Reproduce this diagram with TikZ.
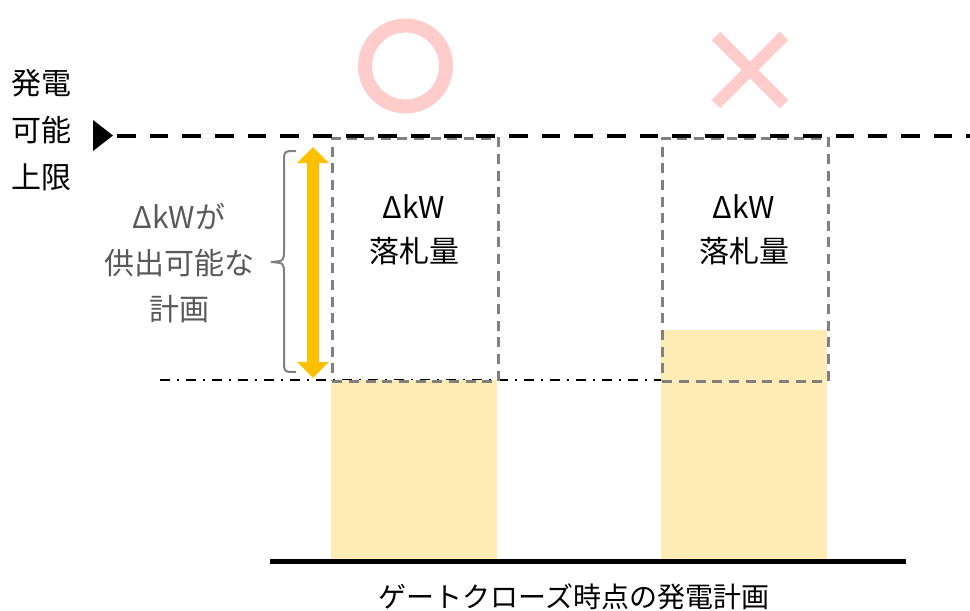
\documentclass[tikz,border=0pt]{standalone}
\usepackage{fontspec}
\newfontfamily\jp{Noto Sans CJK JP}
\usetikzlibrary{arrows.meta}
\definecolor{pinkmark}{HTML}{FFCCCC}
\definecolor{fillyellow}{HTML}{FFECB5}
\definecolor{arroworange}{HTML}{FFC000}
\definecolor{boxgray}{HTML}{808080}
\definecolor{textgray}{HTML}{595959}
\tikzset{
  lbl/.style={font=\jp\fontsize{22.5pt}{34.5pt}\selectfont, inner sep=0pt, align=center},
  boxframe/.style={draw=boxgray, line width=2pt, dash pattern=on 7.5pt off 5pt},
  yellowbar/.style={fill=fillyellow, draw=none},
  limitline/.style={line width=3pt, dash pattern=on 14pt off 10.5pt},
  planline/.style={line width=1.5pt, dash pattern=on 7.5pt off 5pt on 2pt off 5pt},
}
\begin{document}
\begin{tikzpicture}[x=0.75pt,y=-0.75pt]
\useasboundingbox (0,0) rectangle (970,610);
% dash-dot planned level line
\coordinate (pl1) at (160,380);
\coordinate (pl2) at (661,380);
\draw[planline] (pl1) -- (pl2);
% yellow bars
\fill[yellowbar] (331,380) rectangle (497,559);
\fill[yellowbar] (661,330) rectangle (827,559);
% dashed boxes
\node[boxframe, minimum width=166*0.75pt, minimum height=243*0.75pt, inner sep=0pt, anchor=north west] (boxL) at (331,137) {};
\node[boxframe, minimum width=166*0.75pt, minimum height=243*0.75pt, inner sep=0pt, anchor=north west] (boxR) at (661,137) {};
% upper limit line
\coordinate (lim1) at (117,136);
\coordinate (lim2) at (970,136);
\draw[limitline] (lim1) -- (lim2);
\fill (93,120) -- (93,151) -- (113,135.5) -- cycle;
% base line
\coordinate (base1) at (270,561);
\coordinate (base2) at (906,561);
\draw[line width=3.75pt] (base1) -- (base2);
% orange double arrow
\coordinate (arT) at (313,147);
\coordinate (arB) at (313,378);
\draw[arroworange, line width=9pt, {Triangle[width=23pt,length=12pt]}-{Triangle[width=23pt,length=12pt]}] (arT) -- (arB);
% brace
\draw[boxgray, line width=1.5pt] (296,151) .. controls (284,151) .. (284,163) -- (284,250) .. controls (284,261) .. (271,262) .. controls (284,263) .. (284,274) -- (284,360) .. controls (284,372) .. (296,372);
% circle and cross
\node[draw=pinkmark, line width=10.5pt, circle, minimum size=81*0.75pt, inner sep=0pt] (ok) at (405.5,66) {};
\draw[pinkmark, line width=9pt] (716,36) -- (784,104);
\draw[pinkmark, line width=9pt] (784,36) -- (716,104);
\coordinate (ng) at (750,70);
% texts
\node[lbl, anchor=west] (t1) at (11,83) {発電};
\node[lbl, anchor=west] (t2) at (11,130) {可能};
\node[lbl, anchor=west] (t3) at (11,177) {上限};
\node[lbl, text=textgray, font=\jp\fontsize{22.5pt}{34.5pt}\selectfont] (plan) at (179,263) {ΔkWが\\供出可能な\\計画};
\node[lbl, font=\jp\fontsize{22.5pt}{33pt}\selectfont] (awL) at (414,230) {ΔkW\\落札量};
\node[lbl, font=\jp\fontsize{22.5pt}{33pt}\selectfont] (awR) at (744,230) {ΔkW\\落札量};
\node[lbl, font=\jp\fontsize{21pt}{25pt}\selectfont] (cap) at (574,597) {ゲートクローズ時点の発電計画};
\end{tikzpicture}
\end{document}
